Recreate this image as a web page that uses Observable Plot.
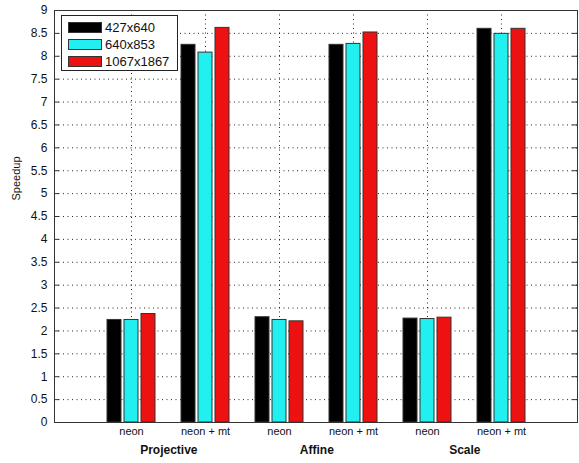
<!DOCTYPE html>
<html>
<head>
<meta charset="utf-8">
<script src="https://cdn.jsdelivr.net/npm/d3@7"></script>
<script src="https://cdn.jsdelivr.net/npm/@observablehq/plot@0.6"></script>
<style>
  html, body { margin: 0; padding: 0; background: #fff; }
  #wrap { position: relative; width: 579px; height: 463px; font-family: "Liberation Sans", Arial, sans-serif; }
  #legend { position: absolute; left: 61px; top: 15px; width: 117px; height: 56px; background: #fff; border: 1px solid #222; box-sizing: border-box; padding: 3px 0 0 6px; }
  .item { display: flex; align-items: center; height: 17px; font-size: 13px; color: #111; }
  .sw { width: 34px; height: 11px; border: 1px solid #333; margin-right: 3px; box-sizing: border-box; }
</style>
</head>
<body>
<div id="wrap"></div>
<script>
const groups = ["Projective", "Affine", "Scale"];
const methods = ["neon", "neon + mt"];
const series = ["427x640", "640x853", "1067x1867"];
const colors = ["#000000", "#22f0f0", "#ee1111"];
// values in order: Projective neon, Projective neon+mt, Affine neon, Affine neon+mt, Scale neon, Scale neon+mt
const v427x640 = [2.24, 8.25, 2.30, 8.25, 2.27, 8.60];
const v640x853 = [2.24, 8.08, 2.24, 8.27, 2.26, 8.49];
const v1067x1867 = [2.37, 8.62, 2.21, 8.52, 2.29, 8.60];
const yTicks = [0, 0.5, 1, 1.5, 2, 2.5, 3, 3.5, 4, 4.5, 5, 5.5, 6, 6.5, 7, 7.5, 8, 8.5, 9];

const seriesValues = [v427x640, v640x853, v1067x1867];
const keys = groups.flatMap(g => methods.map(m => g + "|" + m));
const rows = series.map((s, si) => keys.map((k, i) => ({key: k, series: s, value: seriesValues[si][i]})));

const W = 579, H = 463, mL = 54, mR = 2, mT = 10, mB = 41;
const frameW = W - mL - mR;
const step = frameW / 7;
const insets = [[2, 36], [19, 19], [36, 2]];

const dotted = {stroke: "#000", strokeDasharray: "1,3.5", strokeWidth: 1, strokeOpacity: 0.85};

const plot = Plot.plot({
  width: W, height: H,
  marginLeft: mL, marginRight: mR, marginTop: mT, marginBottom: mB,
  style: {fontFamily: "'Liberation Sans', Arial, sans-serif", fontSize: "11px", color: "#111", background: "#fff"},
  x: {type: "band", domain: keys, paddingInner: 0.3, paddingOuter: 0.65, axis: null, label: null},
  y: {domain: [0, 9], axis: null, label: null},
  marks: [
    Plot.ruleY(yTicks.filter(t => t > 0 && t < 9), dotted),
    Plot.ruleX(keys, {x: d => d, ...dotted}),
    ...rows.map((r, si) => Plot.barY(r, {
      x: "key", y: "value", fill: colors[si], stroke: "#333", strokeWidth: 1,
      insetLeft: insets[si][0], insetRight: insets[si][1]
    })),
    Plot.ruleY(yTicks, {stroke: "#333", insetRight: frameW - 5}),
    Plot.ruleY(yTicks, {stroke: "#333", insetLeft: frameW - 5}),
    Plot.frame({stroke: "#333"}),
    Plot.axisY(yTicks, {anchor: "left", tickSize: 0, tickPadding: 7, fontSize: 12, label: null, tickFormat: d => String(d)}),
    Plot.axisX(keys, {anchor: "bottom", tickSize: 0, tickPadding: 5, fontSize: 11, label: null, tickFormat: k => k.split("|")[1]}),
    Plot.text(groups, {x: g => g + "|neon", text: d => d, frameAnchor: "bottom", dy: 31, dx: step / 2, fontWeight: "bold", fontSize: 12}),
    Plot.text(["Speedup"], {frameAnchor: "left", dx: -38, dy: -16, rotate: -90, fontSize: 11})
  ]
});

const wrap = document.getElementById("wrap");
wrap.appendChild(plot);
const leg = document.createElement("div");
leg.id = "legend";
series.forEach((s, i) => {
  const it = document.createElement("div");
  it.className = "item";
  const sw = document.createElement("div");
  sw.className = "sw";
  sw.style.background = colors[i];
  const t = document.createElement("span");
  t.textContent = s;
  it.appendChild(sw); it.appendChild(t);
  leg.appendChild(it);
});
wrap.appendChild(leg);
</script>
</body>
</html>
